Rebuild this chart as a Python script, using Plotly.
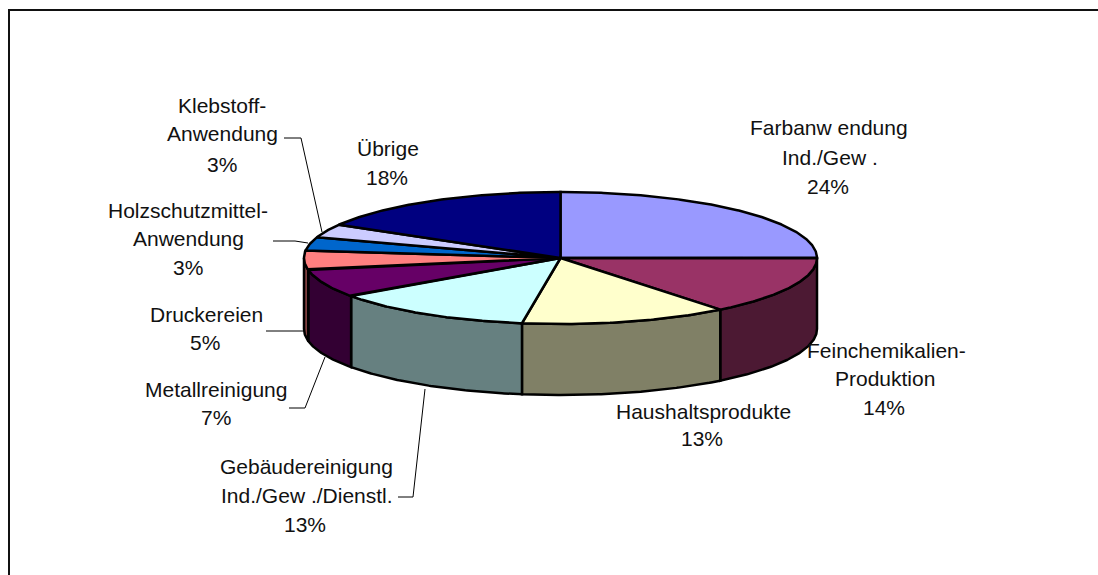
import numpy as np
import plotly.graph_objects as go

categories = ["Farbanwendung Ind./Gew.", "Feinchemikalien-Produktion", "Haushaltsprodukte",
              "Gebäudereinigung Ind./Gew./Dienstl.", "Metallreinigung", "Druckereien",
              "Holzschutzmittel-Anwendung", "Klebstoff-Anwendung", "Übrige"]
printed_percent = [24, 14, 13, 13, 7, 5, 3, 3, 18]
shares = [24.9, 14.4, 13.1, 12.8, 6.9, 4.7, 3.3, 3.3, 16.6]
top_colors = ["#9999FF", "#993366", "#FFFFCC", "#CCFFFF", "#660066", "#FF8080", "#0066CC", "#CCCCFF", "#000080"]
side_colors = ["#4C4C80", "#4C1933", "#808066", "#668080", "#330033", "#804040", "#003366", "#666680", "#000040"]

label_lines = [
    [("Farbanw endung", 829, 127), ("Ind./Gew .", 829.5, 157)],
    [("Feinchemikalien-", 886, 350), ("Produktion", 885, 378)],
    [("Haushaltsprodukte", 703, 411)],
    [("Gebäudereinigung", 306, 466), ("Ind./Gew ./Dienstl.", 307, 495)],
    [("Metallreinigung", 216, 389)],
    [("Druckereien", 206, 314)],
    [("Holzschutzmittel-", 188, 210), ("Anwendung", 188, 238)],
    [("Klebstoff-", 222, 105), ("Anwendung", 222, 133)],
    [("Übrige", 388, 148)],
]
percent_pos = [(828, 186), (884, 407), (702, 438), (305, 524), (216, 417),
               (205, 342), (188, 267), (222, 164), (387, 177)]
leaders = [
    ([284, 301, 322], [138, 138, 232]),
    ([273, 295, 308], [241, 241, 243]),
    ([266, 304], [331, 331]),
    ([289, 305, 325], [408, 408, 357]),
    ([398, 413, 425], [497, 497, 389]),
]

CX, CY, RX, RY, DEPTH = 560.5, 258, 256.5, 66, 71
W, H = 1098, 575

def arc(a, b, dy=0.0):
    t = np.radians(np.linspace(a, b, max(int(abs(b - a)) * 2, 2)))
    return CX + RX * np.sin(t), CY - RY * np.cos(t) + dy

edges = np.concatenate([[0], np.cumsum(shares)]) / np.sum(shares) * 360
fig = go.Figure()

def poly(x, y, fill, width=2.5):
    fig.add_trace(go.Scatter(x=x, y=y, mode="lines", fill="toself", fillcolor=fill,
                             line=dict(color="#000000", width=width),
                             hoverinfo="skip", showlegend=False))

# side wall, visible on the front half only
for i in range(len(shares)):
    a, b = max(edges[i], 90), min(edges[i + 1], 270)
    if b <= a:
        continue
    x0, y0 = arc(a, b)
    x1, y1 = arc(b, a, DEPTH)
    poly(list(x0) + list(x1) + [x0[0]], list(y0) + list(y1) + [y0[0]], side_colors[i])

# top faces
for i in range(len(shares)):
    x0, y0 = arc(edges[i], edges[i + 1])
    poly([CX] + list(x0) + [CX], [CY] + list(y0) + [CY], top_colors[i])

# leader lines
for lx, ly in leaders:
    fig.add_trace(go.Scatter(x=lx, y=ly, mode="lines", line=dict(color="#000000", width=1),
                             hoverinfo="skip", showlegend=False))

annotations = []
for lines, pct, pos in zip(label_lines, printed_percent, percent_pos):
    for txt, x, y in lines + [(f"{pct}%", pos[0], pos[1])]:
        annotations.append(dict(x=x, y=y, xref="x", yref="y", text=txt, showarrow=False,
                                xanchor="center", yanchor="middle",
                                font=dict(family="Liberation Sans, Arial, sans-serif", size=21, color="#111111")))

fig.update_layout(
    width=W, height=H, autosize=False,
    margin=dict(l=0, r=0, t=0, b=0),
    paper_bgcolor="#FFFFFF", plot_bgcolor="#FFFFFF",
    xaxis=dict(range=[0, W], visible=False, fixedrange=True),
    yaxis=dict(range=[H, 0], visible=False, fixedrange=True),
    annotations=annotations,
    shapes=[dict(type="rect", xref="x", yref="y", x0=9, y0=10, x1=W + 20, y1=H + 20,
                 line=dict(color="#111111", width=2), layer="below")],
)
fig.write_html("out.html", config=dict(displayModeBar=False),
               post_script="document.body.style.margin='0';document.documentElement.style.overflow='hidden';")
